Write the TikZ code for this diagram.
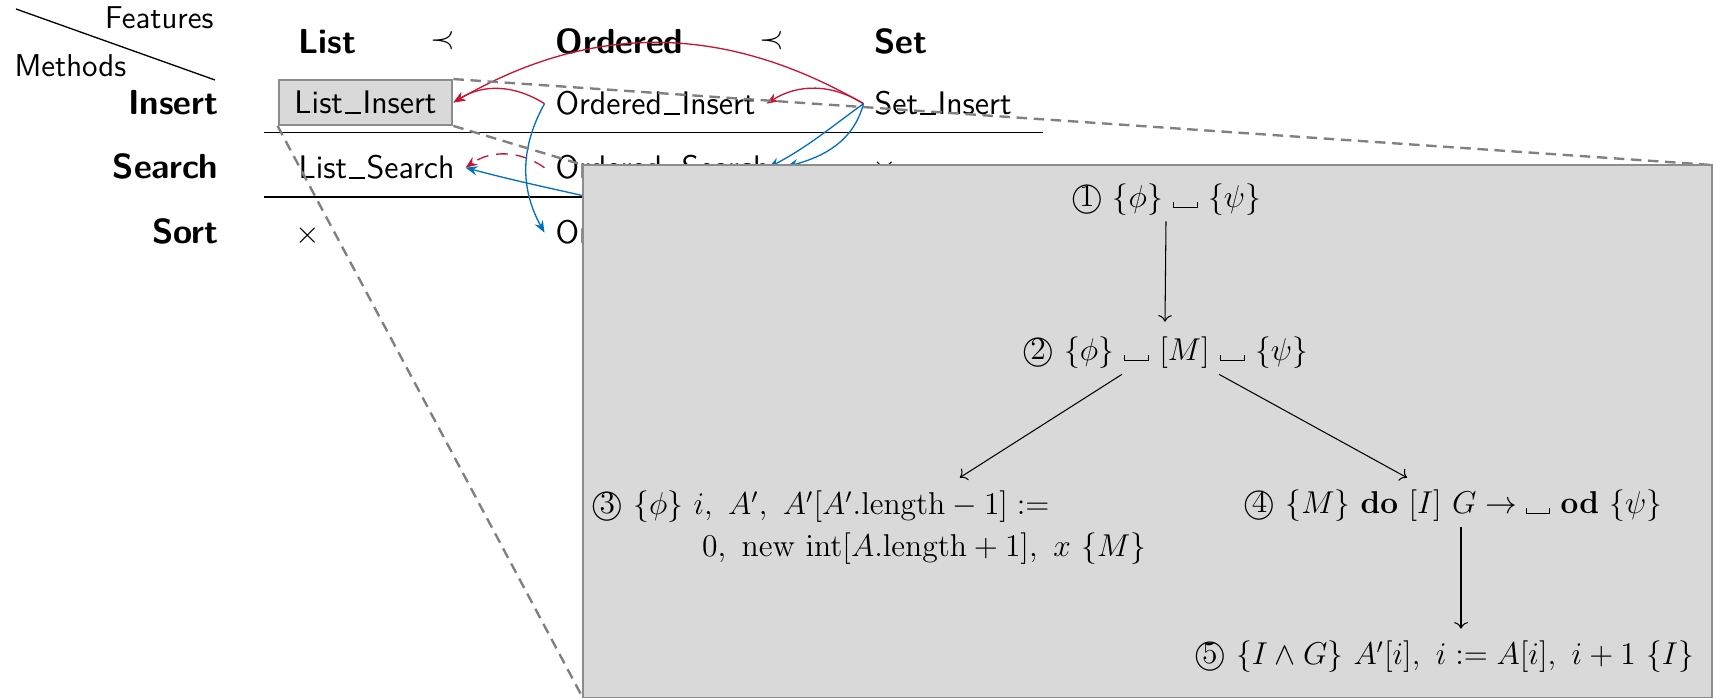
\documentclass[tikz,border=0pt]{standalone}
\usepackage{amsmath}
\usetikzlibrary{calc,arrows.meta}
\definecolor{myred}{RGB}{200,20,50}
\definecolor{myblue}{RGB}{0,112,192}
\definecolor{boxfill}{RGB}{217,217,217}
\definecolor{boxline}{RGB}{140,140,140}
\definecolor{spyline}{RGB}{128,128,128}
\newcommand{\vsp}{\mathord{\mbox{\vrule width 0.4pt height 2.2pt depth 0pt\vrule width 8.6pt height 0.4pt depth 0pt\vrule width 0.4pt height 2.2pt depth 0pt}}}
\newcommand{\us}{\kern.05em\vbox{\hrule height 0.6pt width.5em}\kern.05em}
\begin{document}
\begin{tikzpicture}[x=0.38pt,y=0.38pt,
  lbl/.style={font=\sffamily\large},
  tab/.style={font=\sffamily\fontsize{12.4}{15}\selectfont, inner xsep=4pt},
  hdr/.style={font=\sffamily\bfseries\fontsize{13.2}{16}\selectfont, inner xsep=4pt},
  sym/.style={font=\large},
  redarr/.style={draw=myred, line width=0.5pt, -{Stealth[length=4.5pt,width=3.5pt]}},
  bluearr/.style={draw=myblue, line width=0.5pt, -{Stealth[length=4.5pt,width=3.5pt]}},
  spyl/.style={draw=spyline, dash pattern=on 4pt off 2.5pt, line width=0.9pt},
  gbox/.style={draw=boxline, fill=boxfill, line width=0.8pt},
  mth/.style={inner sep=0pt, font=\large},
  flow/.style={->, line width=0.4pt}]
\useasboundingbox (0,0) rectangle (1717,-698);
% header
\node[lbl, anchor=base east, inner sep=0pt] (feat) at (214,-29) {Features};
\node[lbl, anchor=base west, inner sep=0pt] (meth) at (14,-77) {Methods};
\draw[line width=0.5pt] (16,-9) -- (215,-80);
\node[hdr, anchor=base west] (hList) at (287.5,-54) {List};
\node[sym] (prec1) at (443,-41) {$\prec$};
\node[hdr, anchor=base west] (hOrd) at (544.5,-54) {Ordered};
\node[sym] (prec2) at (772,-41) {$\prec$};
\node[hdr, anchor=base west] (hSet) at (863.5,-54) {Set};
% rows
\node[hdr, anchor=base east] (rIns) at (229.5,-115) {Insert};
\node[hdr, anchor=base east] (rSea) at (229.5,-179) {Search};
\node[hdr, anchor=base east] (rSor) at (229.5,-244) {Sort};
\node[tab, gbox, minimum width=66pt, minimum height=17pt] (LI) at (365.5,-102.5) {List\us Insert};
\node[tab, anchor=base west] (OI) at (544.5,-115) {Ordered\us Insert};
\node[tab, anchor=base west] (SI) at (863.5,-115) {Set\us Insert};
\node[tab, anchor=base west] (LS) at (287.5,-179) {List\us Search};
\node[tab, anchor=base west] (OS) at (544.5,-179) {Ordered\us Search};
\node[sym] (xS) at (885,-170) {$\times$};
\node[sym] (xL) at (308,-236) {$\times$};
\node[tab, anchor=base west] (OSo) at (544.5,-244) {Ordered\us Sort};
\draw[line width=0.4pt] (264,-132.5) -- (1043,-132.5);
\draw[line width=0.4pt] (264,-197) -- (1043,-197);
% arrows
\draw[redarr] (SI.west) to[out=150,in=30] (LI.east);
\draw[redarr] (SI.west) to[out=148,in=32] (OI.east);
\draw[redarr] (OI.west) to[out=148,in=32] (LI.east);
\draw[redarr, dash pattern=on 4.5pt off 3pt] (OS.west) to[out=145,in=35] (LS.east);
\draw[bluearr] (SI.west) to[out=216,in=28] ($(OS.east)+(-12,0)$);
\draw[bluearr] (SI.west) to[out=255,in=15] ($(OS.east)+(6,1)$);
\draw[bluearr] (OI.west) to[out=241,in=119] (OSo.west);
\draw[bluearr] (OSo.north) to[out=165,in=-15] (LS.east);
% zoom frame and spy lines
\node[anchor=north west, inner sep=0pt, minimum width=428.6pt, minimum height=202.2pt] (zoom) at (583,-165) {};
\draw[spyl] (LI.north east) -- (zoom.north east);
\draw[spyl] (LI.south east) -- (zoom.north west);
\draw[spyl] (LI.south west) -- (zoom.south west);
\draw[gbox] (zoom.north west) rectangle (zoom.south east);
% zoom content
\node[mth] (n1) at (1166,-200) {\textcircled{1} $\{\phi\}\ \vsp\ \{\psi\}$};
\node[mth] (n2) at (1165,-353) {\textcircled{2} $\{\phi\}\ \vsp\ [M]\ \vsp\ \{\psi\}$};
\node[mth, anchor=west, align=left] (n3) at (591,-528) {\textcircled{3} $\{\phi\}\ i,\ A',\ A'[A'.\mathrm{length}-1] :=$\\[2pt]
  \hspace*{42pt}$0,\ \mathrm{new\ int}[A.\mathrm{length}+1],\ x\ \{M\}$};
\node[mth] (n4) at (1453,-506) {\textcircled{4} $\{M\}\ \mathbf{do}\ [I]\ G\rightarrow \vsp\ \mathbf{od}\ \{\psi\}$};
\node[mth] (n5) at (1444,-657) {\textcircled{5} $\{I\wedge G\}\ A'[i],\ i := A[i],\ i+1\ \{I\}$};
\draw[flow] ($(n1.south)+(0,-5)$) -- ($(n2.north)+(0,15)$);
\draw[flow] ($(n2.south)+(-43,-5)$) -- ($(n3.north)+(91,13)$);
\draw[flow] ($(n2.south)+(54,-5)$) -- ($(n4.north)+(-46,12)$);
\draw[flow] ($(n4.south)+(8,-5)$) -- ($(n5.north)+(17,12)$);
\end{tikzpicture}
\end{document}
